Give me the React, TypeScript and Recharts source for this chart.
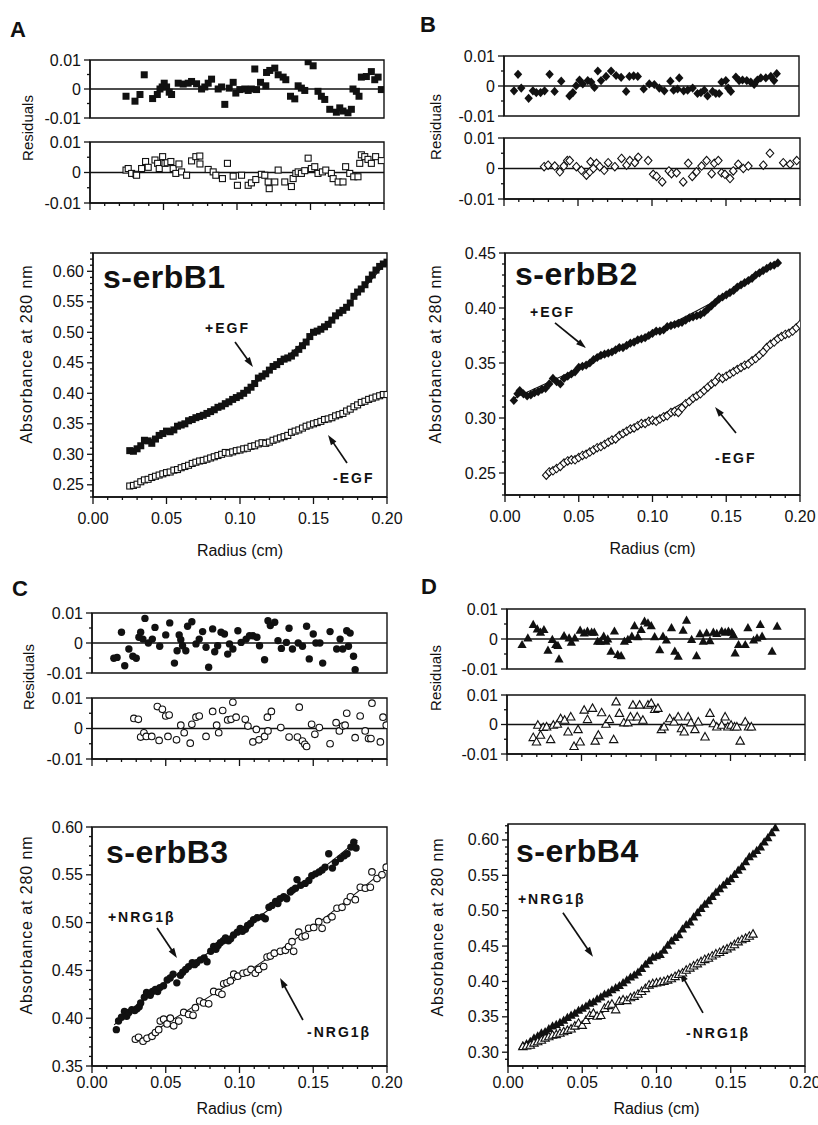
import React from 'react';
import {
  ComposedChart,
  Scatter,
  Line,
  XAxis,
  YAxis,
  ReferenceLine,
  ReferenceArea,
  ReferenceDot,
} from 'recharts';

type Pt = [number, number];
type Box = { l: number; r: number; t: number; b: number };

const FONT = '"Liberation Sans", Arial, Helvetica, sans-serif';
const INK = '#111';

// ---------- ticks ----------
const X_TICKS = [0, 0.01, 0.02, 0.03, 0.04, 0.05, 0.06, 0.07, 0.08, 0.09, 0.1, 0.11, 0.12, 0.13, 0.14, 0.15, 0.16, 0.17, 0.18, 0.19, 0.2];
const X_MAJOR = [0, 0.05, 0.1, 0.15, 0.2];
const RES_TICKS = [-0.01, -0.005, 0, 0.005, 0.01];
const RES_MAJOR = [-0.01, 0, 0.01];
const A_Y_MAJOR = [0.25, 0.3, 0.35, 0.4, 0.45, 0.5, 0.55, 0.6];
const B_Y_MAJOR = [0.25, 0.3, 0.35, 0.4, 0.45];
const C_Y_MAJOR = [0.35, 0.4, 0.45, 0.5, 0.55, 0.6];
const D_Y_MAJOR = [0.3, 0.35, 0.4, 0.45, 0.5, 0.55, 0.6];

// ---------- panel A : s-erbB1 ----------
const A_RES_PLUS: Pt[] = [
  [0.0245, -0.0025], [0.0306, -0.0042], [0.034, -0.0019], [0.0369, 0.0049], [0.0426, -0.0033], [0.0458, -0.0019],
  [0.0476, 0], [0.0491, 0.0007], [0.0505, 0.002], [0.0521, 0.0007], [0.0539, -0.0011], [0.0555, -0.0019],
  [0.06, 0.002], [0.0634, 0.0017], [0.0668, 0.002], [0.0691, 0.0026], [0.0725, 0.0018], [0.0759, 0],
  [0.0781, 0.0007], [0.0804, 0.002], [0.0827, 0.0034], [0.0872, 0], [0.0895, 0.0007], [0.0917, -0.0053],
  [0.0947, 0.0003], [0.0974, 0.0023], [0.0992, -0.0014], [0.1019, -0.0002], [0.1053, 0], [0.1076, -0.0005],
  [0.1098, 0], [0.1121, 0.0069], [0.1133, -0.0002], [0.116, 0.0023], [0.1196, 0.0011], [0.1201, 0.0057],
  [0.1223, 0.0064], [0.1257, 0.0072], [0.128, 0.0049], [0.1314, 0.0041], [0.1332, 0.0032], [0.1364, -0.0025],
  [0.1393, -0.0034], [0.1416, 0.0011], [0.1438, 0.0003], [0.1461, -0.0005], [0.1484, 0.0094], [0.1518, 0.008],
  [0.1551, -0.0008], [0.1574, -0.0025], [0.1597, -0.0036], [0.1631, -0.007], [0.1676, -0.008], [0.1699, -0.0065],
  [0.1721, -0.0076], [0.1755, -0.0082], [0.1778, -0.007], [0.1789, 0], [0.1812, -0.0008], [0.183, -0.0025],
  [0.1846, 0.0041], [0.188, 0.0043], [0.1914, 0.006], [0.1937, 0.0032], [0.196, 0.0041], [0.1982, -0.0002],
];
const A_RES_MINUS: Pt[] = [
  [0.0245, 0.0008], [0.026, 0.0013], [0.0283, -0.0003], [0.0313, -0.0006], [0.0317, -0.0009], [0.0351, 0.0013],
  [0.0378, 0.0036], [0.0396, 0.0017], [0.0442, 0.0041], [0.046, 0.003], [0.0471, 0.0013], [0.0494, 0.0052],
  [0.051, 0.003], [0.0525, 0.0032], [0.055, 0.0036], [0.0566, 0.0013], [0.0584, -0.0003], [0.0605, 0.0028],
  [0.0623, 0.0002], [0.0657, -0.0009], [0.0691, 0.0038], [0.072, 0.0052], [0.0747, 0.0054], [0.0748, 0.0028],
  [0.0804, 0.001], [0.0838, 0.0002], [0.0856, -0.0009], [0.0901, -0.002], [0.0935, 0.003], [0.0974, -0.0012],
  [0.1003, -0.0042], [0.1031, -0.0009], [0.1076, -0.0042], [0.1098, -0.0034], [0.1128, -0.0023], [0.1166, -0.0006],
  [0.1189, -0.0009], [0.1212, -0.0031], [0.1219, -0.0053], [0.1257, -0.0031], [0.128, 0.0008], [0.1325, -0.0031],
  [0.137, -0.0046], [0.1382, -0.002], [0.14, -0.0003], [0.1416, 0.0002], [0.1438, -0.0003], [0.1461, 0.0006],
  [0.1484, 0.0047], [0.1506, 0.0013], [0.1529, 0.0019], [0.1551, -0.0003], [0.1581, 0.0002], [0.1604, 0.0008],
  [0.1642, -0.0003], [0.1654, -0.002], [0.1688, -0.0031], [0.1721, -0.0031], [0.1739, 0.0019], [0.1767, -0.0003],
  [0.1794, -0.0014], [0.1823, -0.0014], [0.1835, 0.003], [0.1846, 0.0058], [0.1869, 0.0052], [0.1891, 0.0043],
  [0.1914, 0.003], [0.1943, 0.0052], [0.1982, 0.0039],
];
const A_PLUS: Pt[] = [
  [0.025, 0.306], [0.0275, 0.305], [0.03, 0.309], [0.0325, 0.314], [0.035, 0.323], [0.0375, 0.322], [0.04, 0.318],
  [0.0425, 0.325], [0.045, 0.331], [0.0475, 0.334], [0.05, 0.338], [0.0525, 0.337], [0.055, 0.34], [0.0575, 0.346],
  [0.06, 0.348], [0.0625, 0.35], [0.065, 0.355], [0.0675, 0.357], [0.07, 0.36], [0.0725, 0.362], [0.075, 0.364],
  [0.0775, 0.367], [0.08, 0.37], [0.0825, 0.373], [0.085, 0.377], [0.0875, 0.379], [0.09, 0.383], [0.0925, 0.386],
  [0.095, 0.39], [0.0975, 0.393], [0.1, 0.396], [0.1025, 0.4], [0.105, 0.405], [0.1075, 0.41], [0.11, 0.416],
  [0.1125, 0.425], [0.115, 0.428], [0.1175, 0.432], [0.12, 0.438], [0.1225, 0.444], [0.125, 0.447], [0.1275, 0.452],
  [0.13, 0.456], [0.1325, 0.458], [0.135, 0.461], [0.1375, 0.466], [0.14, 0.472], [0.1425, 0.478], [0.145, 0.484],
  [0.1475, 0.493], [0.15, 0.5], [0.1525, 0.502], [0.155, 0.505], [0.1575, 0.509], [0.16, 0.513], [0.1625, 0.52],
  [0.165, 0.527], [0.1675, 0.532], [0.17, 0.536], [0.1725, 0.541], [0.175, 0.548], [0.1775, 0.559], [0.18, 0.566],
  [0.1825, 0.571], [0.185, 0.578], [0.1875, 0.587], [0.19, 0.594], [0.1925, 0.602], [0.195, 0.608], [0.1975, 0.612],
  [0.2, 0.615],
];
const A_MINUS: Pt[] = [
  [0.025, 0.248], [0.0275, 0.249], [0.03, 0.251], [0.0325, 0.255], [0.035, 0.258], [0.0375, 0.259], [0.04, 0.262],
  [0.0425, 0.264], [0.045, 0.266], [0.0475, 0.268], [0.05, 0.27], [0.0525, 0.271], [0.055, 0.274], [0.0575, 0.275],
  [0.06, 0.278], [0.0625, 0.28], [0.065, 0.282], [0.0675, 0.285], [0.07, 0.287], [0.0725, 0.289], [0.075, 0.29],
  [0.0775, 0.292], [0.08, 0.294], [0.0825, 0.296], [0.085, 0.298], [0.0875, 0.3], [0.09, 0.303], [0.0925, 0.302],
  [0.095, 0.304], [0.0975, 0.306], [0.1, 0.307], [0.1025, 0.309], [0.105, 0.31], [0.1075, 0.313], [0.11, 0.314],
  [0.1125, 0.317], [0.115, 0.319], [0.1175, 0.318], [0.12, 0.32], [0.1225, 0.323], [0.125, 0.325], [0.1275, 0.327],
  [0.13, 0.329], [0.1325, 0.331], [0.135, 0.336], [0.1375, 0.338], [0.14, 0.34], [0.1425, 0.343], [0.145, 0.346],
  [0.1475, 0.348], [0.15, 0.35], [0.1525, 0.352], [0.155, 0.354], [0.1575, 0.357], [0.16, 0.358], [0.1625, 0.36],
  [0.165, 0.363], [0.1675, 0.365], [0.17, 0.367], [0.1725, 0.371], [0.175, 0.374], [0.1775, 0.378], [0.18, 0.381],
  [0.1825, 0.385], [0.185, 0.387], [0.1875, 0.39], [0.19, 0.392], [0.1925, 0.394], [0.195, 0.396], [0.1975, 0.398],
  [0.2, 0.398],
];
const A_PLUS_FIT: Pt[] = [[0.025, 0.306], [0.05, 0.336], [0.075, 0.364], [0.1, 0.397], [0.125, 0.446], [0.15, 0.498], [0.175, 0.549], [0.2, 0.616]];
const A_MINUS_FIT: Pt[] = [[0.025, 0.248], [0.075, 0.29], [0.125, 0.325], [0.15, 0.35], [0.175, 0.373], [0.2, 0.398]];

// ---------- panel B : s-erbB2 ----------
const B_RES_PLUS: Pt[] = [
  [0.0068, -0.0016], [0.0095, 0.0039], [0.0117, -0.0007], [0.0167, -0.0041], [0.0196, -0.0016], [0.0219, -0.0022],
  [0.0248, -0.0022], [0.0275, -0.0016], [0.0309, 0.0039], [0.0343, -0.0018], [0.0388, 0.0016], [0.0444, -0.0033],
  [0.0467, -0.0022], [0.0489, 0.0001], [0.0512, 0.002], [0.0534, 0.0007], [0.0568, 0.0018], [0.0591, 0.0013],
  [0.0613, -0.0005], [0.0636, 0.005], [0.0658, 0.0018], [0.0692, 0.0032], [0.0726, 0.005], [0.076, 0.0035],
  [0.0794, 0.0029], [0.0828, -0.0018], [0.085, 0.0032], [0.0879, 0.0034], [0.0907, 0.0032], [0.0947, -0.001],
  [0.0985, 0.0007], [0.1019, 0.0005], [0.1053, -0.0007], [0.1087, -0.0016], [0.1128, 0.0016], [0.115, -0.0014],
  [0.1177, -0.001], [0.1188, 0.0027], [0.1218, -0.0016], [0.1245, -0.0014], [0.1279, -0.0007], [0.1312, -0.0025],
  [0.1335, -0.0022], [0.1358, -0.0014], [0.138, -0.0033], [0.1414, -0.0018], [0.1436, -0.0025], [0.1459, -0.0025],
  [0.1475, 0.0013], [0.1504, 0.0018], [0.152, -0.0007], [0.1538, -0.0018], [0.1572, 0.003], [0.1594, 0.0018],
  [0.1617, 0.002], [0.1646, 0.0018], [0.1673, 0.0013], [0.1696, 0.0005], [0.1718, 0.002], [0.1741, 0.0027],
  [0.1775, 0.0027], [0.1809, 0.0032], [0.1831, 0.0018], [0.1849, 0.0041],
];
const B_RES_MINUS: Pt[] = [
  [0.0271, 0.0006], [0.0298, 0.0011], [0.0343, 0.0008], [0.0377, -0.0011], [0.0404, 0.0008], [0.0428, 0.0026],
  [0.0444, 0.0026], [0.0489, 0.0006], [0.0523, -0.0006], [0.0557, -0.0022], [0.058, -0.0011], [0.0585, 0.0022],
  [0.0604, 0], [0.0625, 0.0017], [0.0647, 0.0006], [0.0677, -0.0006], [0.0704, 0.0019], [0.0749, 0.0006],
  [0.0794, 0.0033], [0.0828, 0.0011], [0.085, 0.0026], [0.0884, 0.0019], [0.0907, 0.0037], [0.0974, 0.0026],
  [0.1008, -0.0019], [0.1031, -0.0026], [0.1069, -0.0044], [0.1114, -0.0008], [0.1132, -0.0017], [0.1166, -0.0014],
  [0.1211, -0.0044], [0.1245, 0.0017], [0.1272, -0.0026], [0.1301, -0.0011], [0.1335, 0.0008], [0.1369, 0.0026],
  [0.1403, -0.0017], [0.1421, 0.0017], [0.1448, 0.0026], [0.147, -0.0014], [0.1493, -0.0019], [0.1527, -0.0033],
  [0.1549, -0.0008], [0.1583, 0.0014], [0.1617, 0], [0.1651, 0.0008], [0.1752, 0.0011], [0.1797, 0.005],
  [0.1887, 0.0019], [0.1933, 0.0014], [0.1978, 0.0026],
];
const B_PLUS: Pt[] = [
  [0.006, 0.316], [0.0085, 0.322], [0.01, 0.325], [0.0125, 0.322], [0.015, 0.32], [0.0175, 0.321], [0.02, 0.323],
  [0.0225, 0.324], [0.025, 0.326], [0.0275, 0.327], [0.03, 0.331], [0.0325, 0.336], [0.035, 0.333], [0.0375, 0.331],
  [0.04, 0.336], [0.0425, 0.338], [0.045, 0.34], [0.0475, 0.342], [0.05, 0.346], [0.0525, 0.347], [0.055, 0.348],
  [0.0575, 0.35], [0.06, 0.353], [0.0625, 0.355], [0.065, 0.357], [0.0675, 0.358], [0.07, 0.359], [0.0725, 0.36],
  [0.075, 0.362], [0.0775, 0.364], [0.08, 0.364], [0.0825, 0.366], [0.085, 0.368], [0.0875, 0.369], [0.09, 0.371],
  [0.0925, 0.372], [0.095, 0.373], [0.0975, 0.375], [0.1, 0.377], [0.1025, 0.379], [0.105, 0.379], [0.1075, 0.38],
  [0.11, 0.383], [0.1125, 0.384], [0.115, 0.385], [0.1175, 0.386], [0.12, 0.387], [0.1225, 0.389], [0.125, 0.391],
  [0.1275, 0.392], [0.13, 0.393], [0.1325, 0.394], [0.135, 0.396], [0.1375, 0.399], [0.14, 0.402], [0.1425, 0.405],
  [0.145, 0.408], [0.1475, 0.41], [0.15, 0.412], [0.1525, 0.414], [0.155, 0.416], [0.1575, 0.419], [0.16, 0.421],
  [0.1625, 0.423], [0.165, 0.425], [0.1675, 0.427], [0.17, 0.43], [0.1725, 0.432], [0.175, 0.434], [0.1775, 0.436],
  [0.18, 0.438], [0.1825, 0.439], [0.185, 0.441],
];
const B_MINUS: Pt[] = [
  [0.028, 0.248], [0.03, 0.251], [0.0325, 0.252], [0.035, 0.254], [0.0375, 0.256], [0.04, 0.259], [0.0425, 0.261],
  [0.045, 0.262], [0.0475, 0.262], [0.05, 0.264], [0.0525, 0.266], [0.055, 0.267], [0.0575, 0.269], [0.06, 0.271],
  [0.0625, 0.273], [0.065, 0.274], [0.0675, 0.276], [0.07, 0.278], [0.0725, 0.28], [0.075, 0.281], [0.0775, 0.284],
  [0.08, 0.286], [0.0825, 0.288], [0.085, 0.29], [0.0875, 0.291], [0.09, 0.293], [0.0925, 0.295], [0.095, 0.295],
  [0.0975, 0.297], [0.1, 0.298], [0.1025, 0.297], [0.105, 0.299], [0.1075, 0.301], [0.11, 0.302], [0.1125, 0.305],
  [0.115, 0.306], [0.1175, 0.305], [0.12, 0.309], [0.1225, 0.313], [0.125, 0.315], [0.1275, 0.318], [0.13, 0.32],
  [0.1325, 0.322], [0.135, 0.325], [0.1375, 0.328], [0.14, 0.331], [0.1425, 0.333], [0.145, 0.337], [0.1475, 0.336],
  [0.15, 0.338], [0.1525, 0.34], [0.155, 0.342], [0.1575, 0.344], [0.16, 0.346], [0.1625, 0.348], [0.165, 0.349],
  [0.1675, 0.352], [0.17, 0.354], [0.1725, 0.357], [0.175, 0.36], [0.1775, 0.364], [0.18, 0.367], [0.1825, 0.369],
  [0.185, 0.372], [0.1875, 0.374], [0.19, 0.376], [0.1925, 0.377], [0.195, 0.379], [0.1975, 0.382], [0.2, 0.385],
];
const B_PLUS_FIT: Pt[] = [[0.006, 0.318], [0.05, 0.345], [0.1, 0.377], [0.15, 0.412], [0.185, 0.441]];
const B_MINUS_FIT: Pt[] = [[0.028, 0.249], [0.1, 0.298], [0.15, 0.338], [0.2, 0.385]];

// ---------- panel C : s-erbB3 ----------
const C_RES_PLUS: Pt[] = [
  [0.0148, -0.0051], [0.017, -0.0048], [0.02, 0.0036], [0.0222, -0.0076], [0.025, -0.002], [0.0277, -0.0044],
  [0.03, -0.0051], [0.0318, 0.0019], [0.033, 0.0036], [0.0345, 0.0013], [0.0359, 0.0082], [0.0382, 0],
  [0.0409, 0.0013], [0.0427, 0.0052], [0.0459, -0.0011], [0.05, 0.0027], [0.0527, 0.0067], [0.0559, -0.0067],
  [0.0577, -0.0026], [0.0591, 0.0027], [0.0602, 0.0011], [0.0614, -0.0009], [0.0636, -0.0026], [0.0648, 0.0056],
  [0.0677, 0.0071], [0.0705, -0.0003], [0.0727, 0.0013], [0.075, 0.0038], [0.0773, -0.0014], [0.0791, -0.0081],
  [0.0818, 0.0047], [0.0832, -0.0029], [0.0852, -0.0009], [0.0875, 0.0036], [0.0898, 0.003], [0.092, -0.0037],
  [0.0932, -0.0003], [0.0955, -0.002], [0.0989, 0.0041], [0.1011, 0.0002], [0.1045, 0.0013], [0.1068, 0.0024],
  [0.1091, 0.0024], [0.1118, 0.0019], [0.1136, -0.0009], [0.117, -0.0056], [0.1193, 0.0074], [0.1209, 0.0058],
  [0.1239, 0.0069], [0.1261, 0.0008], [0.1284, -0.0018], [0.1318, 0.0002], [0.1336, 0.0049], [0.1359, -0.002],
  [0.1398, 0], [0.1427, -0.0011], [0.1455, 0.0056], [0.1473, -0.0053], [0.15, 0.003], [0.1518, 0],
  [0.1545, 0], [0.1564, -0.0067], [0.1614, 0.0038], [0.1659, -0.002], [0.1682, 0.0013], [0.17, -0.002],
  [0.1727, 0.0041], [0.1739, -0.0011], [0.175, 0.0033], [0.1773, -0.0044], [0.1784, -0.0089],
];
const C_RES_MINUS: Pt[] = [
  [0.0284, 0.0033], [0.0314, 0.003], [0.033, -0.0028], [0.0352, -0.0014], [0.0368, -0.0026], [0.0405, -0.0026],
  [0.0443, 0.0072], [0.0455, -0.0039], [0.0477, 0.0063], [0.05, 0.0041], [0.0515, -0.0026], [0.0523, 0.0044],
  [0.0573, -0.0037], [0.0602, 0.0011], [0.0625, -0.0014], [0.0666, -0.0048], [0.0677, 0.0014], [0.0705, 0.0037],
  [0.0727, 0.0041], [0.0773, -0.0026], [0.0818, 0.0056], [0.0845, 0.0011], [0.0859, -0.0014], [0.0886, 0.0059],
  [0.092, 0.0028], [0.0943, 0.003], [0.0955, 0.0086], [0.0977, 0.0037], [0.1039, 0.003], [0.1057, 0.0008],
  [0.1091, -0.0044], [0.1114, -0.0003], [0.1132, -0.0037], [0.117, -0.0026], [0.1189, 0.0037], [0.1193, -0.0008],
  [0.1216, 0.0056], [0.128, 0.0003], [0.1336, -0.0028], [0.1393, -0.0028], [0.1405, 0.007], [0.1427, -0.0041],
  [0.1443, -0.0052], [0.1455, -0.0059], [0.1489, 0.0014], [0.1511, -0.0019], [0.1541, 0.0003], [0.1614, -0.005],
  [0.1655, 0.0019], [0.1677, -0.0008], [0.17, 0.0008], [0.1716, 0.0011], [0.1727, 0.005], [0.1784, -0.003],
  [0.1818, 0.0041], [0.1852, -0.0008], [0.1875, -0.0033], [0.1891, -0.0033], [0.1898, 0.0083], [0.1955, -0.0044],
  [0.1973, 0.0037], [0.1995, 0.0011],
];
const C_PLUS: Pt[] = [
  [0.0165, 0.388], [0.018, 0.397], [0.02, 0.401], [0.022, 0.407], [0.0235, 0.402], [0.025, 0.406], [0.027, 0.409],
  [0.029, 0.408], [0.0305, 0.41], [0.032, 0.412], [0.033, 0.416], [0.0355, 0.422], [0.037, 0.427], [0.0395, 0.424],
  [0.041, 0.428], [0.043, 0.43], [0.0445, 0.428], [0.046, 0.432], [0.0485, 0.434], [0.051, 0.44], [0.053, 0.442],
  [0.055, 0.446], [0.0575, 0.437], [0.06, 0.445], [0.0615, 0.448], [0.0635, 0.451], [0.0655, 0.454], [0.068, 0.458],
  [0.0695, 0.456], [0.071, 0.458], [0.0735, 0.461], [0.076, 0.463], [0.078, 0.459], [0.0805, 0.47], [0.0825, 0.475],
  [0.084, 0.472], [0.0855, 0.476], [0.087, 0.479], [0.089, 0.481], [0.0905, 0.484], [0.0925, 0.481], [0.094, 0.483],
  [0.096, 0.487], [0.0985, 0.49], [0.1005, 0.494], [0.102, 0.491], [0.104, 0.493], [0.1055, 0.497], [0.1075, 0.499],
  [0.1095, 0.503], [0.112, 0.505], [0.1155, 0.506], [0.1175, 0.504], [0.12, 0.516], [0.122, 0.518], [0.1245, 0.522],
  [0.126, 0.52], [0.1275, 0.525], [0.13, 0.527], [0.132, 0.525], [0.1345, 0.532], [0.136, 0.534], [0.138, 0.536],
  [0.139, 0.545], [0.1415, 0.539], [0.1445, 0.541], [0.147, 0.544], [0.149, 0.549], [0.1515, 0.551], [0.154, 0.553],
  [0.156, 0.555], [0.158, 0.558], [0.1605, 0.572], [0.163, 0.557], [0.165, 0.563], [0.1685, 0.567], [0.171, 0.57],
  [0.173, 0.572], [0.1755, 0.579], [0.1775, 0.584], [0.179, 0.578],
];
const C_MINUS: Pt[] = [
  [0.0294, 0.378], [0.0316, 0.38], [0.0346, 0.376], [0.0373, 0.379], [0.0407, 0.381], [0.043, 0.385], [0.0452, 0.388],
  [0.0463, 0.397], [0.0486, 0.399], [0.0509, 0.394], [0.0531, 0.4], [0.0554, 0.392], [0.0588, 0.397], [0.0622, 0.406],
  [0.0655, 0.404], [0.0685, 0.403], [0.0701, 0.411], [0.073, 0.418], [0.0757, 0.416], [0.0791, 0.415], [0.0825, 0.428],
  [0.0859, 0.427], [0.0881, 0.425], [0.0893, 0.436], [0.0915, 0.437], [0.0938, 0.439], [0.0961, 0.446], [0.0988, 0.444],
  [0.1024, 0.447], [0.1051, 0.448], [0.1078, 0.451], [0.1107, 0.447], [0.113, 0.451], [0.1164, 0.454], [0.1187, 0.464],
  [0.1209, 0.465], [0.1236, 0.468], [0.1277, 0.47], [0.1311, 0.471], [0.1333, 0.475], [0.1356, 0.48], [0.1367, 0.47],
  [0.1401, 0.49], [0.1424, 0.485], [0.1446, 0.486], [0.1469, 0.494], [0.1503, 0.495], [0.1537, 0.501], [0.156, 0.494],
  [0.1593, 0.503], [0.1627, 0.506], [0.1661, 0.515], [0.1695, 0.516], [0.1729, 0.522], [0.1752, 0.527], [0.1785, 0.524],
  [0.1819, 0.537], [0.1853, 0.536], [0.1887, 0.537], [0.1898, 0.553], [0.1932, 0.546], [0.1966, 0.55], [0.1995, 0.558],
];
const C_PLUS_FIT: Pt[] = [[0.015, 0.393], [0.05, 0.437], [0.1, 0.491], [0.15, 0.549], [0.18, 0.586]];
const C_MINUS_FIT: Pt[] = [[0.03, 0.375], [0.05, 0.394], [0.1, 0.443], [0.15, 0.496], [0.2, 0.557]];

// ---------- panel D : s-erbB4 ----------
const D_RES_PLUS: Pt[] = [
  [0.0101, -0.0019], [0.014, 0.0003], [0.0176, 0.0048], [0.0203, 0.0033], [0.0225, 0.0022], [0.0248, 0.0031],
  [0.0275, -0.0038], [0.0304, -0.0002], [0.0327, -0.0019], [0.0342, -0.0022], [0.0349, -0.0067], [0.0383, 0.0011],
  [0.0417, 0.0003], [0.0432, -0.0011], [0.0455, 0.0003], [0.0491, 0.0029], [0.0518, 0.002], [0.054, 0.0026],
  [0.0568, 0.0022], [0.0586, 0.0022], [0.0608, -0.0008], [0.0626, -0.0008], [0.0649, 0.0009], [0.0664, -0.0008],
  [0.0676, 0], [0.0698, -0.0041], [0.0721, 0.0026], [0.0743, -0.0052], [0.0766, -0.0056], [0.0788, -0.0008],
  [0.0811, -0.0002], [0.0838, 0.0009], [0.0856, 0.0044], [0.0878, 0.0007], [0.0901, 0.0031], [0.0923, 0.0059],
  [0.0946, 0.0053], [0.0968, 0.0044], [0.0991, 0.0007], [0.1025, -0.0036], [0.1047, 0.0009], [0.107, -0.0004],
  [0.1104, 0.0037], [0.1126, -0.0041], [0.1149, -0.0058], [0.1182, 0.0029], [0.1205, 0.0062], [0.1239, -0.0002],
  [0.1272, -0.0056], [0.1295, 0.0017], [0.1317, -0.0008], [0.134, 0.002], [0.1362, -0.0006], [0.1385, 0.0022],
  [0.1408, 0.0018], [0.1441, 0.0026], [0.1464, 0.0022], [0.1486, 0.0026], [0.1509, 0.0022], [0.152, 0.0014],
  [0.1531, -0.0047], [0.1554, -0.0019], [0.1599, -0.0019], [0.1617, 0.0037], [0.1655, -0.0004], [0.1678, 0.0003],
  [0.17, 0.0048], [0.1712, 0.0009], [0.1779, -0.0041], [0.1813, 0.0042],
];
const D_RES_MINUS: Pt[] = [
  [0.0176, -0.0044], [0.0198, -0.0059], [0.0207, -0.0002], [0.0225, -0.0036], [0.0243, -0.001], [0.0266, -0.0008],
  [0.0293, -0.0051], [0.0311, -0.0002], [0.0338, 0.0001], [0.036, 0.002], [0.0387, 0.0015], [0.041, -0.0025],
  [0.0428, 0.0026], [0.045, -0.0074], [0.0477, -0.0017], [0.0491, -0.0059], [0.0518, 0.0049], [0.054, 0.0017],
  [0.0574, 0.0055], [0.0592, -0.0056], [0.0613, -0.0036], [0.0635, 0.004], [0.0664, 0.0001], [0.0687, 0.0017],
  [0.0716, -0.0051], [0.0732, 0.0077], [0.0754, 0.0038], [0.0784, 0.0006], [0.0811, 0.0006], [0.0829, 0.0026],
  [0.0845, 0.0066], [0.0874, 0.0026], [0.089, 0.0066], [0.0912, 0.0015], [0.0946, 0.0066], [0.0968, 0.0072],
  [0.0991, 0.0051], [0.1013, 0.0055], [0.1036, -0.0017], [0.1054, -0.0008], [0.1092, 0.002], [0.1121, 0.0009],
  [0.1149, 0.0026], [0.1171, -0.0014], [0.1189, -0.0025], [0.1216, 0.0026], [0.1234, 0.0006], [0.1261, -0.0017],
  [0.1284, 0.0009], [0.1329, -0.0042], [0.1362, 0.0038], [0.1385, 0.0003], [0.1408, -0.0008], [0.1441, -0.0002],
  [0.1464, 0.0026], [0.1482, -0.0008], [0.1504, -0.0002], [0.1527, -0.0008], [0.1543, -0.0008], [0.1565, -0.0056],
  [0.1599, 0.0009], [0.1621, -0.0008], [0.164, -0.0008],
];
const D_PLUS: Pt[] = [
  [0.01, 0.309], [0.0125, 0.312], [0.015, 0.315], [0.0175, 0.32], [0.02, 0.323], [0.0225, 0.327], [0.025, 0.329],
  [0.0275, 0.333], [0.03, 0.337], [0.0325, 0.339], [0.035, 0.342], [0.0375, 0.345], [0.04, 0.349], [0.0425, 0.352],
  [0.045, 0.355], [0.0475, 0.359], [0.05, 0.362], [0.0525, 0.365], [0.055, 0.369], [0.0575, 0.371], [0.06, 0.375],
  [0.0625, 0.378], [0.065, 0.382], [0.0675, 0.384], [0.07, 0.388], [0.0725, 0.391], [0.075, 0.394], [0.0775, 0.398],
  [0.08, 0.402], [0.0825, 0.406], [0.085, 0.409], [0.0875, 0.413], [0.09, 0.418], [0.0925, 0.424], [0.095, 0.429],
  [0.0975, 0.434], [0.1, 0.436], [0.1025, 0.438], [0.105, 0.444], [0.1075, 0.451], [0.11, 0.457], [0.1125, 0.462],
  [0.115, 0.466], [0.1175, 0.474], [0.12, 0.48], [0.1225, 0.484], [0.125, 0.491], [0.1275, 0.497], [0.13, 0.503],
  [0.1325, 0.509], [0.135, 0.514], [0.1375, 0.52], [0.14, 0.526], [0.1425, 0.531], [0.145, 0.536], [0.1475, 0.541],
  [0.15, 0.545], [0.1525, 0.551], [0.155, 0.557], [0.1575, 0.562], [0.16, 0.569], [0.1625, 0.576], [0.165, 0.58],
  [0.1675, 0.585], [0.17, 0.59], [0.1725, 0.597], [0.175, 0.603], [0.1775, 0.61], [0.18, 0.617],
];
const D_MINUS: Pt[] = [
  [0.01, 0.308], [0.0125, 0.309], [0.015, 0.31], [0.0175, 0.313], [0.02, 0.315], [0.0225, 0.317], [0.025, 0.32],
  [0.0275, 0.322], [0.03, 0.324], [0.0325, 0.325], [0.035, 0.327], [0.0375, 0.329], [0.04, 0.331], [0.0425, 0.333],
  [0.045, 0.337], [0.0475, 0.341], [0.05, 0.338], [0.0525, 0.345], [0.055, 0.352], [0.0575, 0.355], [0.06, 0.351],
  [0.0625, 0.352], [0.065, 0.362], [0.0675, 0.366], [0.07, 0.368], [0.0725, 0.36], [0.075, 0.372], [0.0775, 0.374],
  [0.08, 0.373], [0.0825, 0.377], [0.085, 0.379], [0.0875, 0.382], [0.09, 0.386], [0.0925, 0.39], [0.095, 0.395],
  [0.0975, 0.397], [0.1, 0.398], [0.1025, 0.399], [0.105, 0.4], [0.1075, 0.402], [0.11, 0.404], [0.1125, 0.407],
  [0.115, 0.41], [0.1175, 0.412], [0.12, 0.416], [0.1225, 0.419], [0.125, 0.422], [0.1275, 0.425], [0.13, 0.428],
  [0.1325, 0.431], [0.135, 0.433], [0.1375, 0.436], [0.14, 0.439], [0.1425, 0.441], [0.145, 0.444], [0.1475, 0.446],
  [0.15, 0.449], [0.1525, 0.452], [0.155, 0.456], [0.1575, 0.459], [0.16, 0.461], [0.1625, 0.464], [0.165, 0.467],
];
const D_PLUS_FIT: Pt[] = [[0.01, 0.309], [0.05, 0.361], [0.1, 0.436], [0.125, 0.489], [0.15, 0.545], [0.165, 0.58], [0.18, 0.618]];
const D_MINUS_FIT: Pt[] = [[0.01, 0.308], [0.05, 0.342], [0.1, 0.397], [0.135, 0.434], [0.165, 0.467]];

// ---------- layout (page pixels) ----------
const PAD_T = 12;
const PAD_R = 20;
const PAGE_W = 818;

const A_RES_TOP: Box = { l: 90, r: 384, t: 60, b: 118 };
const A_RES_BOT: Box = { l: 90, r: 384, t: 142, b: 203 };
const A_MAIN: Box = { l: 93, r: 387, t: 253, b: 497 };
const B_RES_TOP: Box = { l: 504, r: 799, t: 56, b: 116 };
const B_RES_BOT: Box = { l: 504, r: 800, t: 138, b: 199 };
const B_MAIN: Box = { l: 505, r: 800, t: 253, b: 495 };
const C_RES_TOP: Box = { l: 92, r: 387, t: 613, b: 673 };
const C_RES_BOT: Box = { l: 92, r: 387, t: 698, b: 759 };
const C_MAIN: Box = { l: 92, r: 387, t: 827, b: 1066 };
const D_RES_TOP: Box = { l: 507, r: 805, t: 609, b: 669 };
const D_RES_BOT: Box = { l: 507, r: 805, t: 695, b: 754 };
const D_MAIN: Box = { l: 508, r: 805, t: 824, b: 1066 };

// ---------- helpers ----------
const xy = (pts: Pt[]) => pts.map(([x, y]) => ({ x, y }));
const hundredths = (lo: number, hi: number) => {
  const out: number[] = [];
  for (let i = Math.ceil(lo * 100 - 1e-6); i <= Math.floor(hi * 100 + 1e-6); i++) out.push(i / 100);
  return out;
};
const isIn = (v: number, list: number[]) => list.some((m) => Math.abs(m - v) < 1e-6);
const fmtRes = (v: number) => (Math.abs(v) < 1e-9 ? '0' : v.toFixed(2));
const fmt2 = (v: number) => v.toFixed(2);

const makeYTick = (major: number[], fmt: (v: number) => string) => (p: any) => {
  const big = isIn(p.payload.value, major);
  return (
    <g>
      <line x1={p.x} x2={p.x - (big ? 6 : 3)} y1={p.y} y2={p.y} stroke={INK} strokeWidth={1.3} />
      {big && (
        <text x={p.x - 9} y={p.y} dy={5.5} textAnchor="end" fontSize={16} fontFamily={FONT} fill={INK}>
          {fmt(p.payload.value)}
        </text>
      )}
    </g>
  );
};

const makeXTick = (labels: boolean, dy: number) => (p: any) => {
  const big = isIn(p.payload.value, X_MAJOR);
  return (
    <g>
      <line x1={p.x} x2={p.x} y1={p.y} y2={p.y + (big ? 7 : 3)} stroke={INK} strokeWidth={1.3} />
      {labels && big && (
        <text x={p.x} y={p.y + dy} textAnchor="middle" fontSize={16} fontFamily={FONT} fill={INK}>
          {fmt2(p.payload.value)}
        </text>
      )}
    </g>
  );
};

// markers
const sqFill = (p: any) => <rect x={p.cx - 3.5} y={p.cy - 3.5} width={7} height={7} fill={INK} />;
const sqOpen = (p: any) => (
  <rect x={p.cx - 3} y={p.cy - 3} width={6} height={6} fill="#fff" stroke={INK} strokeWidth={1.1} />
);
const dmFill = (p: any) => (
  <polygon points={`${p.cx},${p.cy - 4.6} ${p.cx + 4.2},${p.cy} ${p.cx},${p.cy + 4.6} ${p.cx - 4.2},${p.cy}`} fill={INK} />
);
const dmOpen = (p: any) => (
  <polygon
    points={`${p.cx},${p.cy - 4.2} ${p.cx + 3.8},${p.cy} ${p.cx},${p.cy + 4.2} ${p.cx - 3.8},${p.cy}`}
    fill="#fff"
    stroke={INK}
    strokeWidth={1.1}
  />
);
const ciFill = (p: any) => <circle cx={p.cx} cy={p.cy} r={3.7} fill={INK} />;
const ciOpen = (p: any) => <circle cx={p.cx} cy={p.cy} r={3.3} fill="#fff" stroke={INK} strokeWidth={1.1} />;
const trFill = (p: any) => (
  <polygon points={`${p.cx},${p.cy - 4.8} ${p.cx + 4.6},${p.cy + 3.4} ${p.cx - 4.6},${p.cy + 3.4}`} fill={INK} />
);
const trOpen = (p: any) => (
  <polygon
    points={`${p.cx},${p.cy - 4.4} ${p.cx + 4.2},${p.cy + 3.1} ${p.cx - 4.2},${p.cy + 3.1}`}
    fill="#fff"
    stroke={INK}
    strokeWidth={1.1}
  />
);

const ArrowShape = (p: any) => {
  const { x1, y1, x2, y2 } = p;
  const dx = x2 - x1;
  const dy = y2 - y1;
  const len = Math.hypot(dx, dy) || 1;
  const ux = dx / len;
  const uy = dy / len;
  const hl = 10;
  const hw = 3.3;
  const bx = x2 - ux * hl;
  const by = y2 - uy * hl;
  return (
    <g>
      <line x1={x1} y1={y1} x2={bx + ux * 2} y2={by + uy * 2} stroke={INK} strokeWidth={1.7} />
      <polygon points={`${x2},${y2} ${bx - uy * hw},${by + ux * hw} ${bx + uy * hw},${by - ux * hw}`} fill={INK} />
    </g>
  );
};

const note = (key: string, at: Pt, text: string, size: number, spacing: number) => (
  <ReferenceDot
    key={key}
    x={at[0]}
    y={at[1]}
    r={0}
    ifOverflow="visible"
    shape={(p: any) => (
      <text x={p.cx} y={p.cy} fontSize={size} fontWeight="bold" letterSpacing={spacing} fontFamily={FONT} fill={INK}>
        {text}
      </text>
    )}
  />
);

const arrow = (key: string, from: Pt, to: Pt) => (
  <ReferenceLine
    key={key}
    segment={[{ x: from[0], y: from[1] }, { x: to[0], y: to[1] }]}
    ifOverflow="visible"
    shape={ArrowShape}
  />
);

const series = (key: string, pts: Pt[], shape: (p: any) => React.ReactElement) => (
  <Scatter key={key} data={xy(pts)} shape={shape} isAnimationActive={false} />
);

const fit = (key: string, pts: Pt[]) => (
  <Line
    key={key}
    data={xy(pts)}
    dataKey="y"
    type="monotone"
    dot={false}
    stroke={INK}
    strokeWidth={1.1}
    isAnimationActive={false}
  />
);

const zero = <ReferenceLine y={0} stroke={INK} strokeWidth={1.3} />;

interface PlotProps {
  left: number;
  box: Box;
  yDomain: [number, number];
  yTicks: number[];
  yMajor: number[];
  yFmt: (v: number) => string;
  xMode: 'none' | 'ticks' | 'labels';
  xh?: number;
  tickDy?: number;
  xTitleY?: number;
  yTitle?: { x: number; y: number };
  children?: React.ReactNode;
}

function Plot({ left, box, yDomain, yTicks, yMajor, yFmt, xMode, xh, tickDy, xTitleY, yTitle, children }: PlotProps) {
  const top = box.t - PAD_T;
  const axisH = xMode === 'none' ? 0 : xh ?? 14;
  const padB = xMode === 'none' ? 8 : 1;
  const right = Math.min(box.r + PAD_R, PAGE_W);
  const width = right - left;
  const padR = right - box.r;
  const height = PAD_T + (box.b - box.t) + axisH + padB;
  const axisLine = { stroke: INK, strokeWidth: 1.4 };
  return (
    <div style={{ position: 'absolute', left, top }}>
      <ComposedChart width={width} height={height} margin={{ top: PAD_T, right: padR, bottom: padB, left: 0 }}>
        <XAxis
          type="number"
          dataKey="x"
          domain={[0, 0.2]}
          ticks={X_TICKS}
          interval={0}
          allowDataOverflow
          hide={xMode === 'none'}
          height={axisH}
          tickSize={0}
          tickMargin={0}
          tickLine={false}
          axisLine={axisLine}
          tick={makeXTick(xMode === 'labels', tickDy ?? 26)}
          label={
            xTitleY
              ? {
                  content: () => (
                    <text
                      x={(box.l + box.r) / 2 - left}
                      y={xTitleY - top}
                      textAnchor="middle"
                      fontSize={16}
                      fontFamily={FONT}
                      fill={INK}
                    >
                      Radius (cm)
                    </text>
                  ),
                }
              : undefined
          }
        />
        <YAxis
          type="number"
          dataKey="y"
          domain={yDomain}
          ticks={yTicks}
          interval={0}
          allowDataOverflow
          width={box.l - left}
          tickSize={0}
          tickMargin={0}
          tickLine={false}
          axisLine={axisLine}
          tick={makeYTick(yMajor, yFmt)}
          label={
            yTitle
              ? {
                  content: () => (
                    <text
                      transform={`translate(${yTitle.x - left},${yTitle.y - top}) rotate(-90)`}
                      textAnchor="middle"
                      fontSize={16}
                      letterSpacing={0.9}
                      fontFamily={FONT}
                      fill={INK}
                    >
                      Absorbance at 280 nm
                    </text>
                  ),
                }
              : undefined
          }
        />
        <ReferenceArea
          x1={0}
          x2={0.2}
          y1={yDomain[0]}
          y2={yDomain[1]}
          fill="none"
          fillOpacity={0}
          stroke={INK}
          strokeWidth={1.4}
          ifOverflow="visible"
        />
        {children}
      </ComposedChart>
    </div>
  );
}

const RES_DOMAIN: [number, number] = [-0.01, 0.01];

function ResPair({ left, topBox, botBox, plus, minus, plusShape, minusShape }: {
  left: number;
  topBox: Box;
  botBox: Box;
  plus: Pt[];
  minus: Pt[];
  plusShape: (p: any) => React.ReactElement;
  minusShape: (p: any) => React.ReactElement;
}) {
  return (
    <>
      <Plot left={left} box={topBox} yDomain={RES_DOMAIN} yTicks={RES_TICKS} yMajor={RES_MAJOR} yFmt={fmtRes} xMode="none">
        {zero}
        {series('p', plus, plusShape)}
      </Plot>
      <Plot left={left} box={botBox} yDomain={RES_DOMAIN} yTicks={RES_TICKS} yMajor={RES_MAJOR} yFmt={fmtRes} xMode="ticks">
        {zero}
        {series('m', minus, minusShape)}
      </Plot>
    </>
  );
}

const A_DOMAIN: [number, number] = [0.23, 0.63];
const B_DOMAIN: [number, number] = [0.23, 0.45];
const C_DOMAIN: [number, number] = [0.35, 0.6];
const D_DOMAIN: [number, number] = [0.2805, 0.6225];

export default function App() {
  const txt = { fontFamily: FONT, fill: INK };
  return (
    <div style={{ position: 'absolute', left: 0, top: 0, width: 818, height: 1125, overflow: 'hidden', background: '#fff' }}>
      {/* ---- A ---- */}
      <ResPair left={0} topBox={A_RES_TOP} botBox={A_RES_BOT} plus={A_RES_PLUS} minus={A_RES_MINUS} plusShape={sqFill} minusShape={sqOpen} />
      <Plot
        left={0}
        box={A_MAIN}
        yDomain={A_DOMAIN}
        yTicks={hundredths(A_DOMAIN[0], A_DOMAIN[1])}
        yMajor={A_Y_MAJOR}
        yFmt={fmt2}
        xMode="labels"
        xh={64}
        tickDy={27}
        xTitleY={556}
        yTitle={{ x: 32, y: 354 }}
      >
        {fit('f1', A_PLUS_FIT)}
        {fit('f2', A_MINUS_FIT)}
        {series('s1', A_PLUS, sqFill)}
        {series('s2', A_MINUS, sqOpen)}
        {note('t0', [0.0068, 0.5726], 's-erbB1', 32, 0.5)}
        {note('t1', [0.0762, 0.499], '+EGF', 14, 2)}
        {note('t2', [0.1633, 0.253], '-EGF', 14, 2)}
        {arrow('a1', [0.0966, 0.484], [0.1088, 0.443])}
        {arrow('a2', [0.1728, 0.2857], [0.1599, 0.3316])}
      </Plot>

      {/* ---- B ---- */}
      <ResPair left={408} topBox={B_RES_TOP} botBox={B_RES_BOT} plus={B_RES_PLUS} minus={B_RES_MINUS} plusShape={dmFill} minusShape={dmOpen} />
      <Plot
        left={408}
        box={B_MAIN}
        yDomain={B_DOMAIN}
        yTicks={hundredths(B_DOMAIN[0], B_DOMAIN[1])}
        yMajor={B_Y_MAJOR}
        yFmt={fmt2}
        xMode="labels"
        xh={64}
        tickDy={27}
        xTitleY={554}
        yTitle={{ x: 441, y: 354 }}
      >
        {fit('f1', B_PLUS_FIT)}
        {fit('f2', B_MINUS_FIT)}
        {series('s1', B_PLUS, dmFill)}
        {series('s2', B_MINUS, dmOpen)}
        {note('t0', [0.0068, 0.4209], 's-erbB2', 32, 0.5)}
        {note('t1', [0.017, 0.3918], '+EGF', 14, 2)}
        {note('t2', [0.1424, 0.2591], '-EGF', 14, 2)}
        {arrow('a1', [0.0339, 0.3864], [0.0549, 0.3636])}
        {arrow('a2', [0.1566, 0.2864], [0.1424, 0.31])}
      </Plot>

      {/* ---- C ---- */}
      <ResPair left={0} topBox={C_RES_TOP} botBox={C_RES_BOT} plus={C_RES_PLUS} minus={C_RES_MINUS} plusShape={ciFill} minusShape={ciOpen} />
      <Plot
        left={0}
        box={C_MAIN}
        yDomain={C_DOMAIN}
        yTicks={hundredths(C_DOMAIN[0], C_DOMAIN[1])}
        yMajor={C_Y_MAJOR}
        yFmt={fmt2}
        xMode="labels"
        xh={55}
        tickDy={22}
        xTitleY={1114}
        yTitle={{ x: 32, y: 925 }}
      >
        {fit('f1', C_PLUS_FIT)}
        {fit('f2', C_MINUS_FIT)}
        {series('s1', C_PLUS, ciFill)}
        {series('s2', C_MINUS, ciOpen)}
        {note('t0', [0.0095, 0.5623], 's-erbB3', 32, 0.5)}
        {note('t1', [0.0108, 0.5006], '+NRG1β', 14, 2)}
        {note('t2', [0.1458, 0.3803], '-NRG1β', 14, 2)}
        {arrow('a1', [0.0441, 0.4944], [0.0576, 0.463])}
        {arrow('a2', [0.143, 0.3981], [0.1275, 0.442])}
      </Plot>

      {/* ---- D ---- */}
      <ResPair left={408} topBox={D_RES_TOP} botBox={D_RES_BOT} plus={D_RES_PLUS} minus={D_RES_MINUS} plusShape={trFill} minusShape={trOpen} />
      <Plot
        left={408}
        box={D_MAIN}
        yDomain={D_DOMAIN}
        yTicks={hundredths(D_DOMAIN[0], D_DOMAIN[1])}
        yMajor={D_Y_MAJOR}
        yFmt={fmt2}
        xMode="labels"
        xh={55}
        tickDy={22}
        xTitleY={1114}
        yTitle={{ x: 443, y: 927 }}
      >
        {fit('f1', D_PLUS_FIT)}
        {fit('f2', D_MINUS_FIT)}
        {series('s1', D_PLUS, trFill)}
        {series('s2', D_MINUS, trOpen)}
        {note('t0', [0.0054, 0.5692], 's-erbB4', 32, 0.5)}
        {note('t1', [0.0067, 0.5098], '+NRG1β', 14, 2)}
        {note('t2', [0.1199, 0.3202], '-NRG1β', 14, 2)}
        {arrow('a1', [0.037, 0.497], [0.0572, 0.4348])}
        {arrow('a2', [0.1313, 0.3556], [0.1158, 0.4136])}
      </Plot>

      {/* panel letters and the shared "Residuals" titles */}
      <svg width={818} height={1125} style={{ position: 'absolute', left: 0, top: 0, pointerEvents: 'none' }}>
        <text x={10} y={37} fontSize={22} fontWeight="bold" {...txt}>A</text>
        <text x={420} y={32} fontSize={22} fontWeight="bold" {...txt}>B</text>
        <text x={12} y={596} fontSize={22} fontWeight="bold" {...txt}>C</text>
        <text x={421} y={594} fontSize={22} fontWeight="bold" {...txt}>D</text>
        <text transform="translate(33,128) rotate(-90)" textAnchor="middle" fontSize={15} {...txt}>Residuals</text>
        <text transform="translate(441,127) rotate(-90)" textAnchor="middle" fontSize={15} {...txt}>Residuals</text>
        <text transform="translate(34,677) rotate(-90)" textAnchor="middle" fontSize={15} {...txt}>Residuals</text>
        <text transform="translate(441,678) rotate(-90)" textAnchor="middle" fontSize={15} {...txt}>Residuals</text>
      </svg>
    </div>
  );
}
